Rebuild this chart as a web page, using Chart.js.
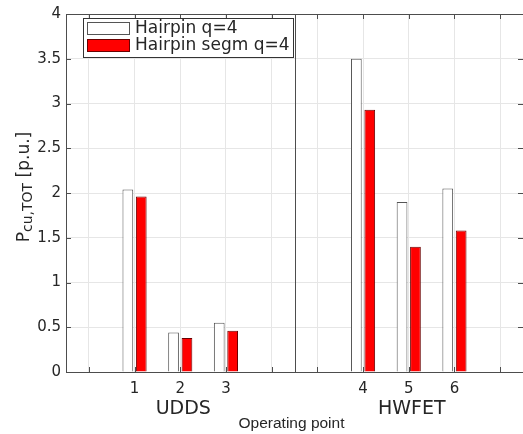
<!DOCTYPE html>
<html>
<head>
<meta charset="utf-8">
<script src="https://cdn.jsdelivr.net/npm/chart.js@4.4.1/dist/chart.umd.min.js"></script>
<style>
  html, body { margin: 0; padding: 0; background: #fff; }
</style>
</head>
<body>
<canvas id="barChart" width="523" height="434"></canvas>
<script>
// data
const categories = ['1', '2', '3', '4', '5', '6'];
const operatingPointX = [1, 2, 3, 6, 7, 8];
const hairpinValues = [2.04, 0.44, 0.55, 3.50, 1.90, 2.05];
const hairpinSegmValues = [1.96, 0.38, 0.46, 2.93, 1.40, 1.58];
const seriesNames = ['Hairpin q=4', 'Hairpin segm q=4'];
const groupNames = ['UDDS', 'HWFET'];
const groupOf = [0, 0, 0, 1, 1, 1];
const xGridTicks = [0, 1, 2, 3, 4, 5, 6, 7, 8, 9];
const yTicks = [0, 0.5, 1, 1.5, 2, 2.5, 3, 3.5, 4];

const axisColor = '#4d4d4d';
const textColor = '#262626';

function points(values) {
    return operatingPointX.map((x, i) => ({ x: x, y: values[i] }));
}

// box, inward ticks, divider, group labels, axis titles, legend
const matlabLook = {
    id: 'matlabLook',
    afterDraw(chart) {
        const ctx = chart.ctx;
        const a = chart.chartArea;
        const xs = chart.scales.x;
        const ys = chart.scales.y;
        ctx.save();
        ctx.strokeStyle = axisColor;
        ctx.lineWidth = 1;

        // divider between the two driving cycles
        const lastUdds = groupOf.lastIndexOf(0);
        const divX = Math.round(xs.getPixelForValue((operatingPointX[lastUdds] + operatingPointX[lastUdds + 1]) / 2)) + 0.5;
        ctx.beginPath();
        ctx.moveTo(divX, a.top);
        ctx.lineTo(divX, a.bottom);
        ctx.stroke();

        // box
        ctx.strokeRect(Math.round(a.left) + 0.5, Math.round(a.top) + 0.5, Math.round(a.right - a.left), Math.round(a.bottom - a.top));

        // inward ticks
        ctx.beginPath();
        xGridTicks.forEach(v => {
            const px = Math.round(xs.getPixelForValue(v)) + 0.5;
            ctx.moveTo(px, a.top); ctx.lineTo(px, a.top + 5);
            ctx.moveTo(px, a.bottom); ctx.lineTo(px, a.bottom - 5);
        });
        yTicks.forEach(v => {
            const py = Math.round(ys.getPixelForValue(v)) + 0.5;
            ctx.moveTo(a.left, py); ctx.lineTo(a.left + 5, py);
            ctx.moveTo(a.right, py); ctx.lineTo(a.right - 5, py);
        });
        ctx.stroke();

        // group labels
        ctx.fillStyle = textColor;
        ctx.textAlign = 'center';
        ctx.textBaseline = 'middle';
        ctx.font = '19px "DejaVu Sans"';
        groupNames.forEach((name, g) => {
            const xsInGroup = operatingPointX.filter((x, i) => groupOf[i] === g);
            const mid = (Math.min(...xsInGroup) + Math.max(...xsInGroup)) / 2;
            ctx.fillText(name, xs.getPixelForValue(mid) + 3, a.bottom + 37);
        });

        // x title
        ctx.font = '15.5px "Liberation Sans"';
        ctx.fillText('Operating point', (a.left + a.right) / 2 - 3, a.bottom + 52);

        // y title with subscript
        ctx.save();
        ctx.translate(29, (a.top + a.bottom) / 2 - 6);
        ctx.rotate(-Math.PI / 2);
        ctx.textAlign = 'left';
        ctx.textBaseline = 'alphabetic';
        const mainFont = '17px "DejaVu Sans"';
        const subFont = '14px "DejaVu Sans"';
        ctx.font = mainFont;
        const wP = ctx.measureText('P').width;
        const wRest = ctx.measureText(' [p.u.]').width;
        ctx.font = subFont;
        const wSub = ctx.measureText('cu,TOT').width;
        let x0 = -(wP + wSub + wRest) / 2;
        ctx.font = mainFont;
        ctx.fillText('P', x0, 0);
        ctx.font = subFont;
        ctx.fillText('cu,TOT', x0 + wP, 3);
        ctx.font = mainFont;
        ctx.fillText(' [p.u.]', x0 + wP + wSub, 0);
        ctx.restore();

        // legend
        const lx = Math.round(a.left) + 17;
        const ly = Math.round(a.top) + 4;
        ctx.fillStyle = '#fff';
        ctx.fillRect(lx, ly, 210, 39);
        ctx.strokeStyle = '#333';
        ctx.strokeRect(lx + 0.5, ly + 0.5, 210, 39);
        ctx.font = '17px "DejaVu Sans"';
        ctx.textAlign = 'left';
        ctx.textBaseline = 'middle';
        chart.data.datasets.forEach((ds, i) => {
            const ry = ly + 4 + i * 17;
            ctx.fillStyle = ds.backgroundColor;
            ctx.fillRect(lx + 4, ry, 42, 12);
            ctx.strokeStyle = ds.borderColor;
            ctx.strokeRect(lx + 4.5, ry + 0.5, 42, 12);
            ctx.fillStyle = textColor;
            ctx.fillText(ds.label, lx + 52, ry + 7);
        });
        ctx.restore();
    }
};

const ctx = document.getElementById('barChart').getContext('2d');

const myChart = new Chart(ctx, {
    type: 'bar',
    data: {
        datasets: [
            {
                label: seriesNames[0],
                data: points(hairpinValues),
                backgroundColor: '#ffffff',
                borderColor: '#555555',
                borderWidth: 1,
            },
            {
                label: seriesNames[1],
                data: points(hairpinSegmValues),
                backgroundColor: '#ff0000',
                borderColor: '#6a0000',
                borderWidth: 1,
            },
        ],
    },
    options: {
        responsive: false,
        animation: false,
        devicePixelRatio: 1,
        categoryPercentage: 0.587,
        barPercentage: 0.8,
        layout: {
            padding: { top: 10, right: -3, left: 0, bottom: 0 },
        },
        plugins: {
            legend: { display: false },
            tooltip: { enabled: false },
        },
        scales: {
            x: {
                type: 'linear',
                min: -0.5,
                max: 9.5,
                offset: false,
                afterBuildTicks: (scale) => {
                    scale.ticks = xGridTicks.map(v => ({ value: v }));
                },
                afterFit: (scale) => { scale.height = 62; },
                grid: { color: '#e6e6e6', drawTicks: false, offset: false },
                border: { display: false },
                ticks: {
                    autoSkip: false,
                    maxRotation: 0,
                    padding: 8,
                    color: textColor,
                    font: { family: '"DejaVu Sans"', size: 15 },
                    callback: function (value) {
                        const i = operatingPointX.indexOf(value);
                        return i < 0 ? '' : categories[i];
                    },
                },
            },
            y: {
                min: 0,
                max: 4,
                afterBuildTicks: (scale) => {
                    scale.ticks = yTicks.map(v => ({ value: v }));
                },
                afterFit: (scale) => { scale.width = 66; },
                grid: { color: '#e6e6e6', drawTicks: false },
                border: { display: false },
                ticks: {
                    padding: 5,
                    color: textColor,
                    font: { family: '"DejaVu Sans"', size: 15 },
                    callback: function (value) {
                        return String(value);
                    },
                },
            },
        },
    },
    plugins: [matlabLook],
});
</script>
</body>
</html>
